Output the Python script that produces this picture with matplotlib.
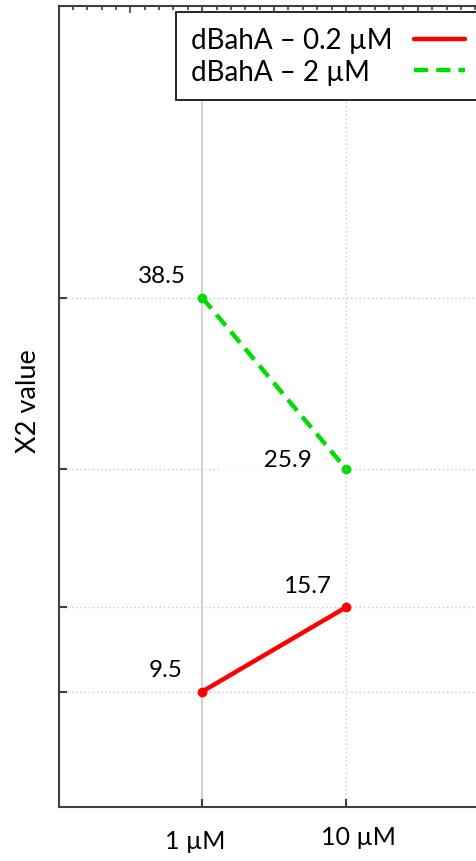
import matplotlib
matplotlib.use("Agg")
import matplotlib.pyplot as plt
from matplotlib.ticker import MultipleLocator, NullFormatter
import matplotlib.transforms as mtransforms

# ---- data ----
x_labels = ["1 µM", "10 µM"]
series_names = ["dBahA – 0.2 µM", "dBahA – 2 µM"]
series_low = [9.5, 15.7]
series_high = [38.5, 25.9]
y_label = "X2 value"

plt.rcParams["font.family"] = ["Lato", "DejaVu Sans"]

fig = plt.figure(figsize=(4.76, 8.62), dpi=100)
ax = fig.add_axes([0.1229, 0.0626, 0.9057, 0.9298])

xpos = [1, 2]
ax.set_xlim(0, 3)
ax.set_ylim(1, 60)
ax.set_axisbelow(True)

l1, = ax.plot(xpos, series_low, color="#ff0000", lw=3.2, marker="o", ms=6,
              solid_capstyle="round", zorder=3, label=series_names[0])
l2, = ax.plot(xpos, series_high, color="#00dd00", lw=3.2, marker="o", ms=6,
              linestyle=(0, (3.2, 1.8)), zorder=3, label=series_names[1])

# value labels
offsets = {  # (dx, dy) in points
    (0, 0): (-26, 16), (0, 1): (-28, 16),
    (1, 0): (-29, 16), (1, 1): (-44, 7),
}
for si, vals in enumerate([series_low, series_high]):
    for xi, v in enumerate(vals):
        dx, dy = offsets[(si, xi)]
        txt = f"{v:.1f}"
        kw = {}
        if (si, xi) == (1, 1):
            txt = "       " + txt + "      "
            kw = dict(bbox=dict(fc="white", ec="none", pad=0))
        ax.annotate(txt, (xpos[xi], v), xytext=(dx, dy), textcoords="offset points",
                    ha="center", va="center", fontsize=17.5, color="black",
                    zorder=1.5, **kw)

# axes styling
ax.set_xticks(xpos)
ax.set_xticklabels(x_labels, fontsize=18)
ax.set_yticks(sorted(series_low + series_high))
ax.set_yticklabels([])
ax.tick_params(axis="both", direction="in", length=6, width=1.5, color="#404040")
ax.tick_params(axis="x", pad=14)
for lab, dx, dy in zip(ax.get_xticklabels(), [-5, 9], [-2, 1]):
    lab.set_transform(lab.get_transform() + mtransforms.ScaledTranslation(dx / 72, dy / 72, fig.dpi_scale_trans))

ax.grid(axis="y", color="#c8c8c8", linestyle=(0, (1, 2)), lw=1)
ax.grid(axis="x", color="#c8c8c8", linestyle=(0, (1, 2)), lw=1)
gl = ax.xaxis.get_gridlines()
gl[0].set_linestyle("-")
gl[0].set_color("#d4d4d4")
gl[0].set_linewidth(1.6)

for s in ax.spines.values():
    s.set_color("#404040")
    s.set_linewidth(1.5)

ax.set_ylabel(y_label, fontsize=19.5)
ax.yaxis.set_label_coords(-0.04, 0.508)

# top axis with fine ticks
top = ax.twiny()
top.set_xlim(ax.get_xlim())
top.xaxis.set_major_locator(MultipleLocator(0.5))
top.xaxis.set_minor_locator(MultipleLocator(0.1))
top.xaxis.set_major_formatter(NullFormatter())
top.tick_params(axis="x", which="major", direction="in", length=5, width=1.2, color="#404040")
top.tick_params(axis="x", which="minor", direction="in", length=3, width=1.2, color="#404040")
for s in top.spines.values():
    s.set_visible(False)

leg = ax.legend(handles=[l1, l2], loc="upper left",
                bbox_to_anchor=(176 / 476, 1 - 13 / 862), bbox_transform=fig.transFigure,
                fontsize=20, markerfirst=False, handlelength=1.85, handletextpad=0.75,
                labelspacing=0.2, borderpad=0.55, borderaxespad=0, fancybox=False,
                framealpha=1, edgecolor="black")
leg.get_frame().set_linewidth(1.2)
for h in leg.legend_handles:
    h.set_marker("")
leg.set_zorder(5)

# left-align the texts while keeping the line samples aligned on the right
fig.canvas.draw()
cols = leg._legend_handle_box.get_children()
for col in cols:
    col.align = "left"
    rows = col.get_children()
    widths = [r.get_children()[0].get_window_extent().width for r in rows]
    wmax = max(widths)
    for r, w in zip(rows, widths):
        r.sep = r.sep + (wmax - w) * 72 / fig.dpi

fig.savefig("out.png", dpi=100)
